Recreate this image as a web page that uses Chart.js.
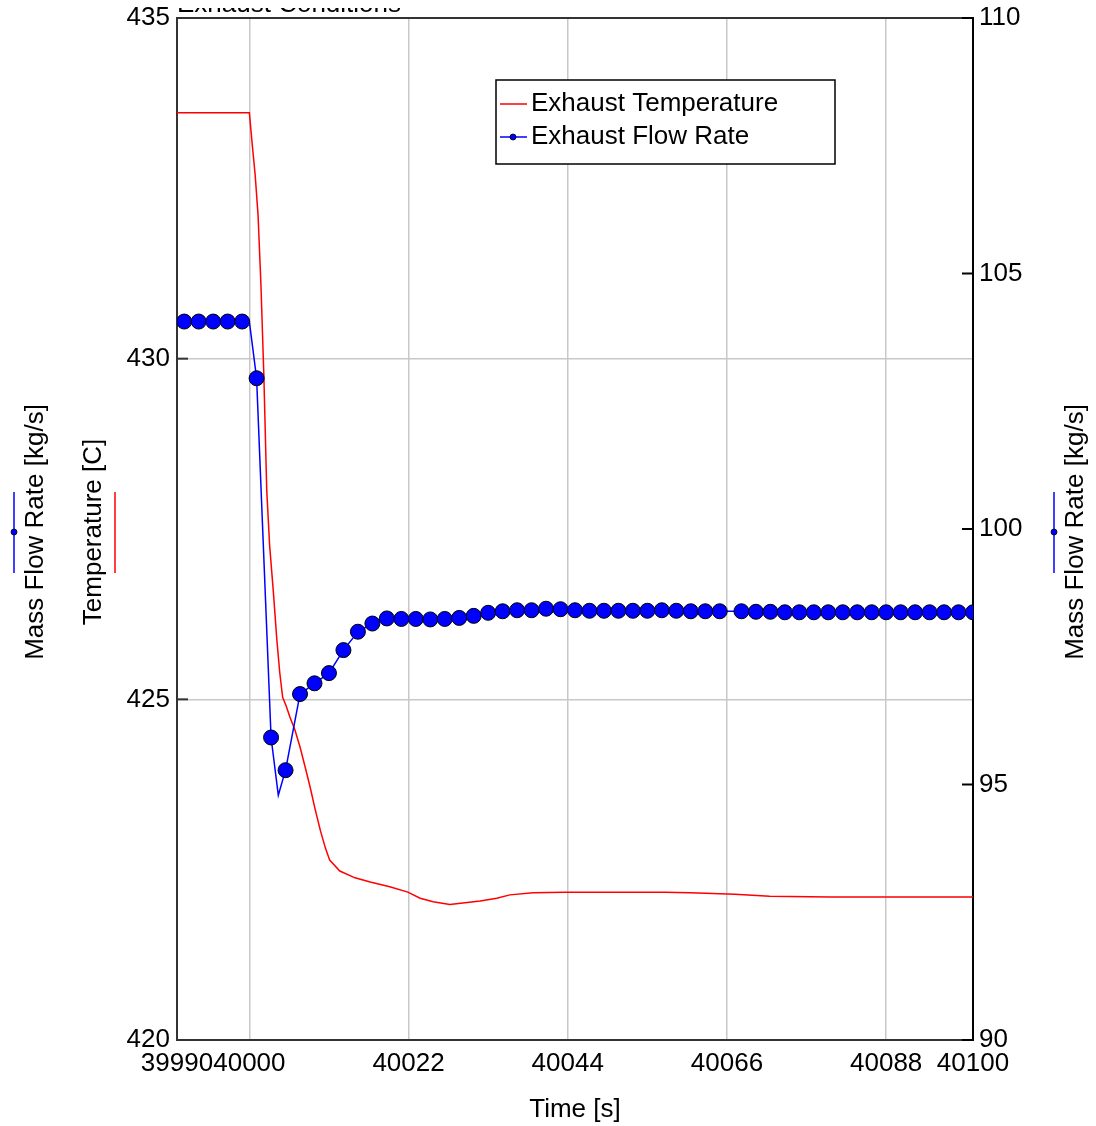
<!DOCTYPE html>
<html>
<head>
<meta charset="utf-8">
<script src="https://cdn.jsdelivr.net/npm/chart.js@4.4.1/dist/chart.umd.min.js"></script>
<style>
  html, body { margin: 0; padding: 0; background: #fff; }
</style>
</head>
<body>
<canvas id="exhaustChart" width="1096" height="1126"></canvas>
<script>
// x axis tick positions (s)
const timeTicks = [39990, 40000, 40022, 40044, 40066, 40088, 40100];

// Exhaust temperature [C]
const tempTime = [39990, 40000, 40000.4, 40000.8, 40001.2, 40001.6, 40002, 40002.4, 40002.8,
  40003.3, 40003.8, 40004.2, 40004.6, 40005.1, 40005.6, 40006.3, 40007, 40007.7, 40008.4,
  40009.1, 40009.8, 40010.5, 40011.1, 40012.5, 40014.6, 40016.7, 40019.4, 40021.9, 40023.6,
  40025.4, 40027.7, 40029.5, 40031.9, 40034.2, 40036, 40039.2, 40043.6, 40057.4, 40060.9,
  40067.1, 40071.9, 40080.2, 40100];
const tempValue = [433.61, 433.61, 433.14, 432.70, 432.11, 431.08, 429.76, 428.07, 427.26,
  426.60, 425.87, 425.39, 425.03, 424.90, 424.74, 424.55, 424.30, 424.01, 423.71,
  423.38, 423.08, 422.82, 422.64, 422.48, 422.38, 422.32, 422.25, 422.17, 422.08,
  422.03, 421.99, 422.01, 422.04, 422.08, 422.13, 422.16, 422.17, 422.17, 422.16,
  422.14, 422.11, 422.10, 422.10];

// Exhaust flow rate [kg/s], blue markers
const flowTime = [39990, 39991, 39993, 39995, 39997, 39999, 40000, 40001, 40003, 40004, 40005,
  40007, 40009, 40011, 40013, 40015, 40017, 40019, 40021, 40023, 40025, 40027, 40029, 40031,
  40033, 40035, 40037, 40039, 40041, 40043, 40045, 40047, 40049, 40051, 40053, 40055, 40057,
  40059, 40061, 40063, 40065, 40068, 40070, 40072, 40074, 40076, 40078, 40080, 40082, 40084,
  40086, 40088, 40090, 40092, 40094, 40096, 40098, 40100];
const flowValue = [104.06, 104.06, 104.06, 104.06, 104.06, 104.06, 104.06, 102.95, 95.92, 94.79, 95.28,
  96.77, 96.98, 97.18, 97.63, 97.99, 98.15, 98.25, 98.24, 98.24, 98.23, 98.24, 98.26, 98.30,
  98.36, 98.39, 98.41, 98.41, 98.44, 98.43, 98.41, 98.40, 98.40, 98.40, 98.40, 98.40, 98.41,
  98.40, 98.39, 98.39, 98.39, 98.39, 98.38, 98.38, 98.37, 98.37, 98.37, 98.37, 98.37, 98.37,
  98.37, 98.37, 98.37, 98.37, 98.37, 98.37, 98.37, 98.37];
// line-only points (no marker drawn)
const flowNoMarker = [39990, 40000, 40004];

const FONT = '"Liberation Sans", Arial, sans-serif';

/**
 * Draws frame top, inward ticks, axis titles, legend box and the clipped title
 */
const decorPlugin = {
  id: 'decor',
  afterDraw (chart) {
    const ctx = chart.ctx;
    const a = chart.chartArea;
    const midY = (a.top + a.bottom) / 2 + 3;
    ctx.save();

    // top frame line
    ctx.strokeStyle = '#333';
    ctx.lineWidth = 2;
    ctx.beginPath();
    ctx.moveTo(a.left, a.top);
    ctx.lineTo(a.right, a.top);
    ctx.stroke();

    // inward tick marks
    chart.scales.y.ticks.forEach(t => {
      const py = chart.scales.y.getPixelForValue(t.value);
      ctx.beginPath();
      ctx.moveTo(a.left, py);
      ctx.lineTo(a.left + 11, py);
      ctx.stroke();
    });
    ctx.strokeStyle = '#000';
    chart.scales.y1.ticks.forEach(t => {
      const py = chart.scales.y1.getPixelForValue(t.value);
      ctx.beginPath();
      ctx.moveTo(a.right - 11, py);
      ctx.lineTo(a.right, py);
      ctx.stroke();
    });

    // vertical axis titles
    ctx.fillStyle = '#000';
    ctx.font = '26px ' + FONT;
    ctx.textAlign = 'center';
    ctx.textBaseline = 'middle';
    const vText = (text, x) => {
      ctx.save();
      ctx.translate(x, midY);
      ctx.rotate(-Math.PI / 2);
      ctx.fillText(text, 0, 0);
      ctx.restore();
    };
    vText('Mass Flow Rate [kg/s]', 36);
    vText('Temperature [C]', 94);
    vText('Mass Flow Rate [kg/s]', 1076);

    // little series glyphs beside the titles
    const vGlyph = (x, color, dot) => {
      ctx.strokeStyle = color;
      ctx.lineWidth = 1.5;
      ctx.beginPath();
      ctx.moveTo(x, midY - 40);
      ctx.lineTo(x, midY + 41);
      ctx.stroke();
      if (dot) {
        ctx.fillStyle = '#0000ff';
        ctx.beginPath();
        ctx.arc(x, midY, 3, 0, Math.PI * 2);
        ctx.fill();
        ctx.strokeStyle = '#000';
        ctx.lineWidth = 0.8;
        ctx.stroke();
      }
    };
    vGlyph(14, '#0000ff', true);
    vGlyph(115, '#ff0000', false);
    vGlyph(1054, '#0000ff', true);

    // x axis title
    ctx.fillStyle = '#000';
    ctx.textAlign = 'center';
    ctx.fillText('Time [s]', (a.left + a.right) / 2, 1110);

    // legend box
    ctx.fillStyle = '#fff';
    ctx.fillRect(496, 80, 339, 84);
    ctx.strokeStyle = '#000';
    ctx.lineWidth = 1.5;
    ctx.strokeRect(496, 80, 339, 84);
    ctx.strokeStyle = '#ff0000';
    ctx.beginPath();
    ctx.moveTo(500, 104);
    ctx.lineTo(527, 104);
    ctx.stroke();
    ctx.strokeStyle = '#0000ff';
    ctx.beginPath();
    ctx.moveTo(500, 137);
    ctx.lineTo(527, 137);
    ctx.stroke();
    ctx.fillStyle = '#0000ff';
    ctx.beginPath();
    ctx.arc(513, 137, 3, 0, Math.PI * 2);
    ctx.fill();
    ctx.strokeStyle = '#000';
    ctx.lineWidth = 0.8;
    ctx.stroke();
    ctx.fillStyle = '#000';
    ctx.textAlign = 'left';
    ctx.fillText('Exhaust Temperature', 531, 104);
    ctx.fillText('Exhaust Flow Rate', 531, 137);

    // chart title, cut off at the top edge
    ctx.beginPath();
    ctx.rect(0, 8, chart.width, 10);
    ctx.clip();
    ctx.textBaseline = 'alphabetic';
    ctx.fillText('Exhaust Conditions', 177, 12);

    ctx.restore();
  }
};

const data = {
  datasets: [{
    label: 'Exhaust Temperature',
    data: tempTime.map((t, i) => ({ x: t, y: tempValue[i] })),
    yAxisID: 'y',
    borderColor: '#ff0000',
    borderWidth: 1.5,
    pointRadius: 0,
    order: 1
  },
  {
    label: 'Exhaust Flow Rate',
    data: flowTime.map((t, i) => ({ x: t, y: flowValue[i] })),
    yAxisID: 'y1',
    borderColor: '#0000ff',
    borderWidth: 1.5,
    pointRadius: c => (flowNoMarker.includes(flowTime[c.dataIndex]) ? 0 : 7.5),
    pointBackgroundColor: '#0000ff',
    pointBorderColor: '#000',
    pointBorderWidth: 1,
    order: 0
  }]
};

const tickFont = { family: FONT, size: 26 };

// strip the label overflow padding so the plot box lands where we want it
const noPad = s => { s.paddingTop = 0; s.paddingBottom = 0; s.paddingLeft = 0; s.paddingRight = 0; };

const config = {
  type: 'line',
  data: data,
  options: {
    responsive: false,
    animation: false,
    layout: { padding: { top: 18, right: 0, bottom: 0, left: 0 } },
    plugins: {
      legend: { display: false },
      title: { display: false },
      tooltip: { enabled: false }
    },
    scales: {
      x: {
        type: 'linear',
        min: 39990,
        max: 40100,
        afterBuildTicks: s => { s.ticks = timeTicks.map(v => ({ value: v })); },
        afterFit: s => { s.height = 86; noPad(s); },
        ticks: {
          autoSkip: false,
          maxRotation: 0,
          padding: 8,
          color: '#000',
          font: tickFont,
          callback: v => String(v)
        },
        grid: { color: '#c8c8c8', lineWidth: 1.5, drawTicks: false },
        border: { color: '#333', width: 2 }
      },
      y: {
        position: 'left',
        min: 420,
        max: 435,
        afterFit: s => { s.width = 177; noPad(s); },
        ticks: { stepSize: 5, padding: 7, color: '#000', font: tickFont },
        grid: { color: '#c8c8c8', lineWidth: 1.5, drawTicks: false },
        border: { color: '#333', width: 2 }
      },
      y1: {
        position: 'right',
        min: 90,
        max: 110,
        afterFit: s => { s.width = 123; noPad(s); },
        ticks: { stepSize: 5, padding: 6, color: '#000', font: tickFont },
        grid: { drawOnChartArea: false, drawTicks: false },
        border: { color: '#000', width: 2 }
      }
    }
  },
  plugins: [decorPlugin]
};

const myChart = new Chart(
  document.getElementById('exhaustChart'),
  config
);
</script>
</body>
</html>
